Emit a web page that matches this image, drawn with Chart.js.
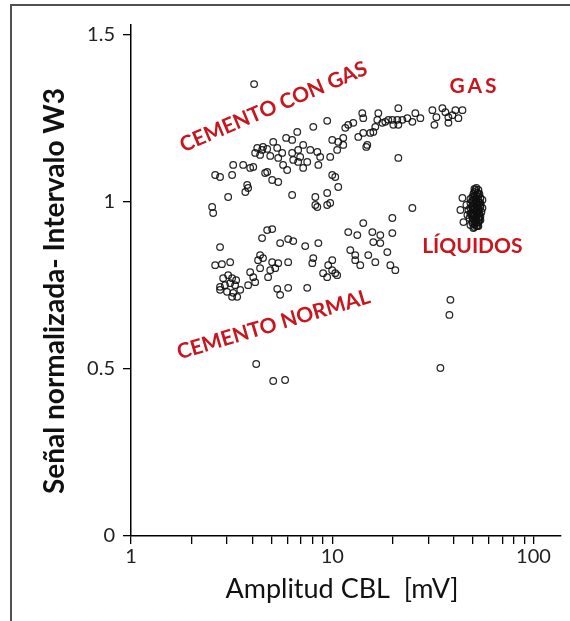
<!DOCTYPE html>
<html><head><meta charset="utf-8">
<script src="https://cdn.jsdelivr.net/npm/chart.js@4.4.0/dist/chart.umd.min.js"></script>
<style>
html,body{margin:0;padding:0;background:#fff;}
#wrap{position:relative;width:570px;height:621px;overflow:hidden;background:#fff;}
#frame{position:absolute;left:10px;top:4px;width:700px;height:700px;border-left:2px solid #505050;border-top:2px solid #505050;}
canvas{position:absolute;left:0;top:0;}
</style></head><body>
<div id="wrap"><div id="frame"></div><canvas id="c" width="570" height="621"></canvas></div>
<script>
// ---- data ----
const xTitle = 'Amplitud CBL  [mV]';
const yTitle = 'Señal normalizada- Intervalo W3';
const xTickValues = [1,2,3,4,5,6,7,8,9,10,20,30,40,50,60,70,80,90,100];
const xTickLabels = {1:'1',10:'10',100:'100'};
const yTickValues = [0,0.5,1,1.5];
const yTickLabels = ['0','0.5','1','1.5'];

const cementoConGas = [
[4.09,1.353],[9.44,1.243],[8.05,1.225],[6.70,1.210],[5.90,1.192],[6.32,1.186],[5.09,1.180],[4.24,1.162],[4.48,1.156],[4.75,1.159],[5.33,1.162],[5.64,1.147],[4.14,1.147],[4.38,1.141],[4.92,1.138],[5.39,1.132],[6.32,1.147],[6.77,1.156],[7.17,1.171],[7.78,1.156],[8.43,1.150],[8.71,1.135],[6.93,1.135],[6.40,1.126],[6.77,1.120],[7.51,1.120],[5.70,1.111],[5.97,1.096],[7.17,1.102],[8.53,1.111],[9.77,1.135],[10.58,1.156],[10.71,1.180],[3.22,1.111],[3.61,1.111],[3.91,1.102],[4.05,1.105],[3.18,1.081],[2.77,1.075],[4.75,1.090],[5.03,1.066],[5.39,1.060],[3.78,1.051],[3.82,1.042],[3.70,1.030],[6.32,1.021],[8.24,1.015],[9.44,1.027],[8.24,0.991],[9.44,0.991],[10.0,1.081],[3.04,1.015],[4.53,1.165],[4.64,1.087],[2.62,1.081]
];
const gas = [
[10.0,1.186],[11.34,1.192],[11.34,1.171],[11.61,1.222],[12.01,1.231],[12.72,1.237],[13.47,1.195],[14.10,1.266],[14.26,1.251],[14.26,1.207],[14.93,1.171],[14.76,1.165],[15.46,1.207],[16.0,1.210],[16.37,1.225],[16.94,1.266],[16.75,1.246],[17.73,1.237],[18.35,1.240],[18.99,1.246],[19.89,1.246],[20.12,1.231],[21.06,1.246],[21.30,1.281],[21.30,1.231],[22.31,1.246],[23.62,1.251],[25.01,1.240],[25.88,1.266],[27.41,1.251],[31.45,1.275],[32.93,1.254],[32.18,1.231],[35.27,1.281],[36.50,1.269],[37.78,1.254],[37.78,1.237],[39.55,1.260],[40.93,1.275],[42.36,1.251],[44.35,1.275],[21.30,1.132],[10.35,1.075],[10.71,1.045],[9.77,0.997],[25.01,0.982],[19.89,0.952]
];
const cementoNormal = [
[19.89,0.907],[14.26,0.937],[12.01,0.910],[13.32,0.901],[15.82,0.910],[17.33,0.901],[16.0,0.880],[17.33,0.877],[18.78,0.850],[12.29,0.856],[13.01,0.841],[13.01,0.826],[13.78,0.811],[15.10,0.841],[16.37,0.820],[19.44,0.811],[20.58,0.796],[10.0,0.826],[9.99,0.796],[10.58,0.781],[8.43,0.985],[5.03,0.919],[4.75,0.916],[4.48,0.892],[5.51,0.877],[6.04,0.889],[6.40,0.883],[7.34,0.868],[8.53,0.877],[4.38,0.841],[4.28,0.826],[4.53,0.832],[5.03,0.820],[5.39,0.817],[6.04,0.820],[4.38,0.802],[4.92,0.796],[5.21,0.802],[8.05,0.832],[7.96,0.817],[9.55,0.811],[9.01,0.787],[9.44,0.775],[10.35,0.787],[2.62,0.811],[2.83,0.814],[3.11,0.820],[3.91,0.790],[4.14,0.760],[3.82,0.751],[4.80,0.775],[5.33,0.740],[6.04,0.743],[5.51,0.722],[7.51,0.743],[2.87,0.772],[3.04,0.781],[3.18,0.772],[3.33,0.766],[2.77,0.746],[2.93,0.751],[3.11,0.757],[3.29,0.751],[2.77,0.737],[3.00,0.731],[3.22,0.728],[3.37,0.716],[3.49,0.737],[3.18,0.716],[4.05,0.775],[2.53,0.985],[2.56,0.967],[2.77,0.865]
];
const liquidos = [
[52.05,1.042],[53.25,1.036],[50.87,1.030],[53.87,1.024],[52.05,1.018],[49.72,1.015],[54.5,1.012],[51.46,1.006],[53.25,1.000],[48.6,0.997],[50.87,0.994],[54.5,0.991],[52.05,0.985],[49.72,0.982],[53.25,0.979],[47.5,0.976],[51.46,0.973],[55.12,0.970],[49.16,0.967],[52.65,0.964],[50.87,0.958],[53.87,0.955],[48.05,0.952],[52.05,0.949],[49.72,0.943],[53.25,0.940],[50.87,0.934],[48.6,0.931],[52.65,0.928],[50.29,0.922],[44.35,1.012],[43.34,0.976],[44.86,0.940],[46.42,0.991],[46.96,0.961],[55.76,1.006],[54.5,0.946],[50.29,1.024],[48.6,1.009],[55.76,0.982],
[51.46,1.036],[52.65,1.027],[50.29,1.006],[53.87,0.997],[52.65,0.988],[50.29,0.976],[53.87,0.967],[52.05,0.958],[49.72,0.955],[53.87,0.946],[51.46,0.940],[52.05,0.928],
[50.87,1.039],[53.25,1.021],[49.72,1.003],[52.05,0.997],[54.5,0.985],[50.87,0.979],[53.25,0.973],[48.6,0.964],[52.05,0.961],[54.5,0.958],[50.87,0.949],[53.25,0.949],[49.72,0.937],[52.05,0.937],[53.25,0.928],[50.87,0.925],[52.05,1.009],[50.87,1.018],[53.25,1.009],[49.72,0.988],[52.05,0.973],[49.72,0.961],[54.5,0.997],[48.6,0.982]
];
const aislados = [[38.65,0.707],[38.21,0.662],[34.47,0.503],[4.19,0.515],[5.09,0.464],[5.83,0.467]];

const noteTexts = ['CEMENTO CON GAS','GAS','LÍQUIDOS','CEMENTO NORMAL'];
const noteX = [5.09, 50.9, 49.7, 5.09];
const noteY = [1.287, 1.349, 0.871, 0.635];
const noteAngle = [-23, 0, 0, -16.5];

// ---- chart ----
const FONT = 'Lato, "Open Sans", sans-serif';
const RED = '#c8161e';
const groups = [cementoConGas, gas, cementoNormal, liquidos, aislados];

const notesPlugin = {
  id: 'notes',
  afterDatasetsDraw(chart) {
    const {ctx, scales: {x, y}} = chart;
    noteTexts.forEach((t, i) => {
      const px = x.getPixelForValue(noteX[i]);
      const py = y.getPixelForValue(noteY[i]);
      const size = 21;
      ctx.save();
      ctx.translate(px, py);
      ctx.rotate(noteAngle[i] * Math.PI / 180);
      ctx.font = 'bold ' + size + 'px ' + FONT;
      ctx.letterSpacing = i === 1 ? '3px' : '0px';
      ctx.fillStyle = RED;
      ctx.textAlign = 'center';
      ctx.textBaseline = 'alphabetic';
      ctx.fillText(t, 0, size * 0.36);
      ctx.restore();
    });
  }
};

const axisTitlePlugin = {
  id: 'axisTitles',
  afterDraw(chart) {
    const {ctx, chartArea} = chart;
    ctx.save();
    ctx.fillStyle = '#111';
    ctx.textAlign = 'center';
    ctx.textBaseline = 'alphabetic';
    // x axis title
    ctx.font = '27px ' + FONT;
    ctx.fillText(xTitle, chartArea.left + 211, chartArea.bottom + 62);
    // y axis title
    ctx.translate(64, chartArea.top + 266);
    ctx.rotate(-Math.PI / 2);
    ctx.font = 'bold 28px ' + FONT;
    ctx.fillText(yTitle, 0, 0);
    ctx.restore();
  }
};

new Chart(document.getElementById('c').getContext('2d'), {
  type: 'scatter',
  data: {
    datasets: groups.map(g => ({
      data: g.map(p => ({x: p[0], y: p[1]})),
      pointRadius: 3.3,
      pointBorderWidth: 1.25,
      pointBorderColor: 'rgba(15,15,15,0.9)',
      pointBackgroundColor: 'rgba(0,0,0,0)',
      showLine: false
    }))
  },
  options: {
    responsive: false,
    animation: false,
    devicePixelRatio: 1,
    layout: {padding: {left: 0, top: 25, right: 9, bottom: 0}},
    plugins: {legend: {display: false}, tooltip: {enabled: false}},
    scales: {
      x: {
        type: 'logarithmic', min: 1, max: 137,
        afterBuildTicks: s => { s.ticks = xTickValues.map(v => ({value: v})); },
        afterFit: s => { s.height = 85; },
        ticks: {
          autoSkip: false, maxRotation: 0, padding: 1, color: '#222',
          font: {family: FONT, size: 20},
          callback: v => (xTickLabels[v] !== undefined ? xTickLabels[v] : '')
        },
        grid: {drawOnChartArea: false, drawTicks: true, tickLength: 8, color: '#000', lineWidth: 1.3},
        border: {display: true, color: '#000', width: 1.5},
        title: {display: false}
      },
      y: {
        type: 'linear', min: 0, max: 1.53,
        afterBuildTicks: s => { s.ticks = yTickValues.map(v => ({value: v})); },
        afterFit: s => { s.width = 131; },
        ticks: {
          padding: 8, color: '#222', font: {family: FONT, size: 20},
          callback: (v) => { const i = yTickValues.indexOf(v); return i >= 0 ? yTickLabels[i] : ''; }
        },
        grid: {drawOnChartArea: false, drawTicks: true, tickLength: 8, color: '#000', lineWidth: 1.3},
        border: {display: true, color: '#000', width: 1.5},
        title: {display: false}
      }
    }
  },
  plugins: [notesPlugin, axisTitlePlugin]
});
</script>
</body></html>
